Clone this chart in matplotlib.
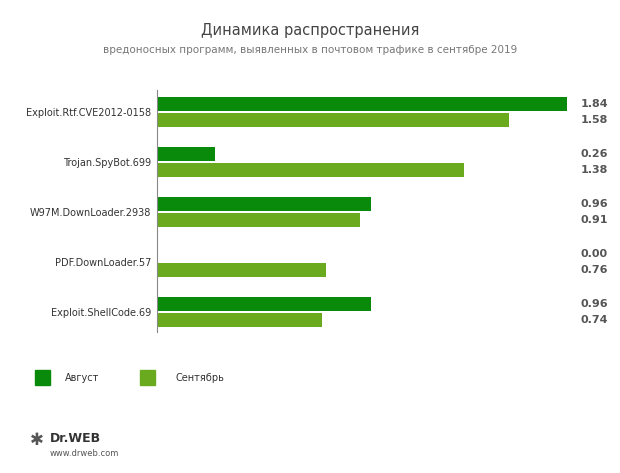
import matplotlib
matplotlib.use("Agg")
import matplotlib.pyplot as plt
import numpy as np

categories = ["Exploit.Rtf.CVE2012-0158", "Trojan.SpyBot.699", "W97M.DownLoader.2938", "PDF.DownLoader.57", "Exploit.ShellCode.69"]
august = [1.84, 0.26, 0.96, 0.00, 0.96]
september = [1.58, 1.38, 0.91, 0.76, 0.74]

c_aug = "#0a8a0a"
c_sep = "#6aaa1e"

fig = plt.figure(figsize=(6.2, 4.73), dpi=100)
ax = fig.add_axes([157/620, 1-332/473, 410/620, 242/473])
y = np.arange(len(categories))
ax.barh(y-0.16, august, height=0.29, color=c_aug)
ax.barh(y+0.16, september, height=0.29, color=c_sep)
ax.set_xlim(0, 1.84)
ax.set_ylim(4.4, -0.44)
for s in ["top", "right", "bottom"]:
    ax.spines[s].set_visible(False)
ax.spines["left"].set_color("#888888")
ax.set_xticks([])
ax.set_yticks(y)
ax.set_yticklabels(categories, fontsize=7, color="#333333")
ax.tick_params(axis="y", length=0, pad=4)
for i in range(len(categories)):
    ax.text(1.90, i-0.16, f"{august[i]:.2f}", va="center", fontsize=8, fontweight="bold", color="#555555")
    ax.text(1.90, i+0.16, f"{september[i]:.2f}", va="center", fontsize=8, fontweight="bold", color="#555555")

fig.text(0.5, 1-30/473, "Динамика распространения", ha="center", va="center", fontsize=10.5, color="#444444")
fig.text(0.5, 1-50/473, "вредоносных программ, выявленных в почтовом трафике в сентябре 2019", ha="center", va="center", fontsize=7.5, color="#777777")

fig.patches.append(plt.Rectangle((35/620, 1-385/473), 15/620, 15/473, color=c_aug, transform=fig.transFigure))
fig.text(65/620, 1-378/473, "Август", va="center", fontsize=7, color="#333333")
fig.patches.append(plt.Rectangle((140/620, 1-385/473), 15/620, 15/473, color=c_sep, transform=fig.transFigure))
fig.text(175/620, 1-378/473, "Сентябрь", va="center", fontsize=7, color="#333333")

fig.text(50/620, 1-438/473, "Dr.WEB", va="center", fontsize=9, fontweight="bold", color="#333333")
fig.text(50/620, 1-453/473, "www.drweb.com", va="center", fontsize=6, color="#555555")
fig.text(30/620, 1-440/473, "✱", va="center", fontsize=12, color="#555555")

fig.savefig("out.png", dpi=100)
